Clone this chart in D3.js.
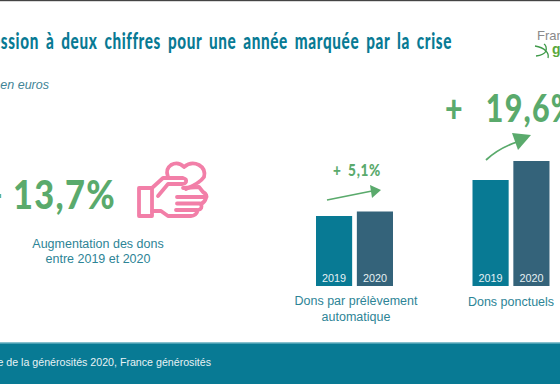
<!DOCTYPE html>
<html lang="fr">
<head>
<meta charset="utf-8">
<script src="https://cdn.jsdelivr.net/npm/d3@7"></script>
<style>
  html, body { margin: 0; padding: 0; background: #fff; overflow: hidden; }
  svg { display: block; }
  .sans { font-family: "Liberation Sans", sans-serif; }
  .hand { font-family: "Lato", sans-serif; font-weight: 900; }
</style>
</head>
<body>
<div id="chart"></div>
<script>
const years = ['2019', '2020'];
const prelevementValues = [70, 74.5];
const ponctuelsValues = [106, 125];
const titleText = 'Progression à deux chiffres pour une année marquée par la crise';
const subtitleText = 'Montants en euros';
const totalLabel = '+ 13,7%';
const totalCaption = ['Augmentation des dons', 'entre 2019 et 2020'];
const prelevementLabel = '+ 5,1%';
const prelevementCaption = ['Dons par prélèvement', 'automatique'];
const ponctuelsLabel = '+ 19,6%';
const ponctuelsCaption = ['Dons ponctuels'];
const sourceText = 'Source : Baromètre de la générosités 2020, France générosités';

const width = 560;
const height = 384;
const teal = '#087a94';
const slate = '#34637a';
const green = '#5aaa6c';
const pink = '#f27fa8';
const captionColor = '#2d8496';

const svg = d3.select('#chart').append('svg')
  .attr('width', width)
  .attr('height', height);

svg.append('rect').attr('width', width).attr('height', 1.2).attr('fill', '#444');

// condensed bold text, squeezed horizontally since no narrow face is installed
function handText(text, x, y, size, squeeze, anchor, color, spacing, wordSpacing) {
  return svg.append('text')
    .attr('class', 'hand')
    .attr('transform', `translate(${x},${y}) scale(${squeeze},1)`)
    .attr('text-anchor', anchor)
    .attr('font-size', size)
    .attr('letter-spacing', spacing)
    .attr('word-spacing', wordSpacing)
    .attr('fill', color)
    .text(text);
}

// title and subtitle, both run off the left edge like the reference
handText(titleText, 452, 49, 22.5, 0.68, 'end', teal, 0.9, 4);

svg.append('text')
  .attr('class', 'sans')
  .attr('x', 49).attr('y', 89)
  .attr('text-anchor', 'end')
  .attr('font-size', 12.5)
  .attr('font-style', 'italic')
  .attr('fill', '#3f8496')
  .text(subtitleText);

// logo
svg.append('text')
  .attr('class', 'sans')
  .attr('x', 537).attr('y', 40)
  .attr('font-size', 13)
  .attr('fill', '#8a8a8a')
  .text('France');
svg.append('text')
  .attr('class', 'sans')
  .attr('x', 552).attr('y', 54)
  .attr('font-size', 14)
  .attr('font-weight', 'bold')
  .attr('fill', '#5aa83c')
  .text('générosités');
svg.append('path')
  .attr('d', 'M535 46 Q542 47 546 51 Q547 46 544 44 M546 51 Q544 55 536 56 M546 51 Q549 54 548 58')
  .attr('fill', 'none')
  .attr('stroke', '#3f9a4a')
  .attr('stroke-width', 1.3);

// left panel
handText(totalLabel, 116, 209, 40, 0.86, 'end', green, 1.5, 0);

const icon = svg.append('g')
  .attr('fill', 'none')
  .attr('stroke', pink)
  .attr('stroke-width', 3.8)
  .attr('stroke-linejoin', 'round')
  .attr('stroke-linecap', 'round');
icon.append('path')
  .attr('d', 'M168 177 Q165 169 171 165 Q178 161 184 167 Q191 161 199 165 Q206 169 204 177 Q200 183 186 189');
icon.append('path')
  .attr('d', 'M139 188 H152 V216 H139 Z');
icon.append('path')
  .attr('d', 'M152 188 L163 178 H183 Q187 179 186 182 Q185 184 182 184 H168 L158 196');
icon.append('path')
  .attr('d', 'M183 188 L199 187 L203 192 Q208 195 206 198 Q205 202 201 204 Q203 209 198 210 Q196 216 191 216 H168 L161 211 H152');
icon.append('path')
  .attr('d', 'M177 197 H205 M177 203.5 H200 M176 210 H197');

// small charts
const yScale = d3.scaleLinear().domain([0, 125]).range([286, 161]);

function drawBars(values, x0, x1, barColors) {
  const x = d3.scaleBand()
    .domain(years)
    .range([x0, x1])
    .paddingInner(0.115);
  const g = svg.append('g');
  g.selectAll('rect')
    .data(values)
    .join('rect')
    .attr('x', (d, i) => x(years[i]))
    .attr('y', d => yScale(d))
    .attr('width', x.bandwidth())
    .attr('height', d => yScale(0) - yScale(d))
    .attr('fill', (d, i) => barColors[i]);
  g.selectAll('text')
    .data(years)
    .join('text')
    .attr('class', 'sans')
    .attr('x', d => x(d) + x.bandwidth() / 2)
    .attr('y', 282)
    .attr('text-anchor', 'middle')
    .attr('font-size', 10.8)
    .attr('fill', '#e6f1f4')
    .text(d => d);
}

drawBars(prelevementValues, 316, 393, [teal, slate]);
drawBars(ponctuelsValues, 472.5, 549.5, [teal, slate]);

function caption(lines, cx, y0, lineHeight) {
  svg.append('g')
    .selectAll('text')
    .data(lines)
    .join('text')
    .attr('class', 'sans')
    .attr('x', cx)
    .attr('y', (d, i) => y0 + i * lineHeight)
    .attr('text-anchor', 'middle')
    .attr('font-size', 12.5)
    .attr('fill', captionColor)
    .text(d => d);
}

caption(totalCaption, 98, 248, 15);
caption(prelevementCaption, 356, 305, 16);
caption(ponctuelsCaption, 511, 306, 16);

// growth labels and arrows
handText(prelevementLabel, 381, 176, 16, 0.85, 'end', green, 0.8, 3);
handText(ponctuelsLabel, 445, 122, 38, 0.8, 'start', green, 1.5, 17);

svg.append('path')
  .attr('d', 'M327 200 L372 191')
  .attr('stroke', green).attr('stroke-width', 1.6).attr('fill', 'none');
svg.append('path')
  .attr('d', 'M370 185 L381 190 L372 198 Z')
  .attr('fill', green);
svg.append('path')
  .attr('d', 'M486 160 Q499 148 517 142')
  .attr('stroke', green).attr('stroke-width', 1.8).attr('fill', 'none');
svg.append('path')
  .attr('d', 'M512 133 L531 135 L518 150 Z')
  .attr('fill', green);

// footer band
svg.append('rect')
  .attr('x', 0).attr('y', 342.5)
  .attr('width', width).attr('height', 41.5)
  .attr('fill', teal);
svg.append('rect')
  .attr('x', 0).attr('y', 342.5)
  .attr('width', width).attr('height', 1)
  .attr('fill', '#8cc6d3');
svg.append('text')
  .attr('class', 'sans')
  .attr('x', 211).attr('y', 366)
  .attr('text-anchor', 'end')
  .attr('font-size', 10.65)
  .attr('fill', '#e8f2f5')
  .text(sourceText);
</script>
</body>
</html>
